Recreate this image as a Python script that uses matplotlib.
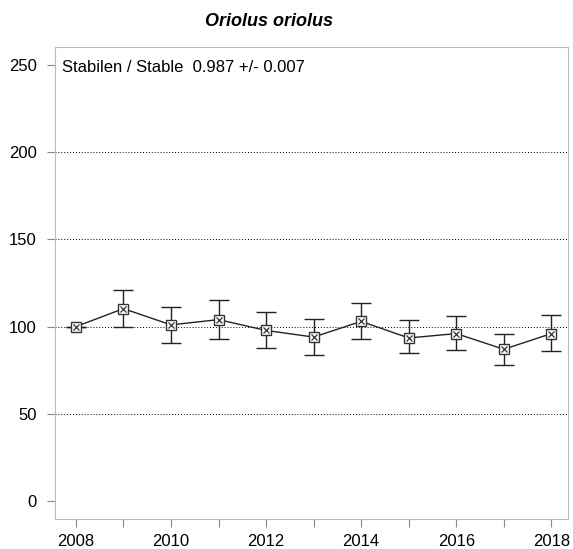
import matplotlib
matplotlib.use("Agg")
import matplotlib.pyplot as plt

plt.rcParams["font.family"] = ["Liberation Sans", "DejaVu Sans"]

years = [2008, 2009, 2010, 2011, 2012, 2013, 2014, 2015, 2016, 2017, 2018]
index = [100, 110.3, 101, 104, 97.8, 94, 103, 93.5, 96, 87, 96]
upper = [100, 121, 111.3, 115, 108.5, 104.6, 113.4, 103.8, 106, 96, 106.4]
lower = [100, 100, 90.6, 93, 88, 84, 92.7, 84.8, 86.5, 78, 85.8]

title = "Oriolus oriolus"
trend_text = "Stabilen / Stable  0.987 +/- 0.007"

fig = plt.figure(figsize=(5.73, 5.49), dpi=100)
ax = fig.add_axes([55 / 573, 1 - 519 / 549, 513 / 573, 472 / 549])

for g in [50, 100, 150, 200]:
    ax.axhline(g, color="black", linestyle=(0, (1, 2)), linewidth=0.7, zorder=1)

yerr = [[v - l for v, l in zip(index, lower)], [u - v for u, v in zip(upper, index)]]
ax.errorbar(years, index, yerr=yerr, color="#222222", linewidth=1.0,
            elinewidth=1.0, capsize=7, capthick=1.0, zorder=2)
ax.plot(years, index, linestyle="none", marker="s", markersize=6.5,
        markerfacecolor="white", markeredgecolor="#333333", markeredgewidth=1.0, zorder=3)
ax.plot(years, index, linestyle="none", marker="x", markersize=5,
        color="#333333", markeredgewidth=0.9, zorder=4)

ax.set_xlim(2007.56, 2018.35)
ax.set_ylim(-10.3, 260.3)
ax.set_yticks([0, 50, 100, 150, 200, 250])
ax.set_xticks(years)
ax.set_xticklabels([str(y) if y % 2 == 0 else "" for y in years])
ax.tick_params(axis="both", labelsize=12, color="#888888", length=6, width=0.8)
ax.tick_params(axis="x", pad=5)
ax.tick_params(axis="y", pad=7)
for s in ax.spines.values():
    s.set_color("#bbbbbb")
    s.set_linewidth(0.8)

ax.text(7 / 513, 1 - 21 / 472, trend_text, transform=ax.transAxes,
        fontsize=12, va="center", ha="left")
fig.text(269 / 573, 1 - 22 / 549, title, fontsize=13, fontweight="bold",
         fontstyle="italic", ha="center", va="center")

fig.savefig("out.png", dpi=100)
